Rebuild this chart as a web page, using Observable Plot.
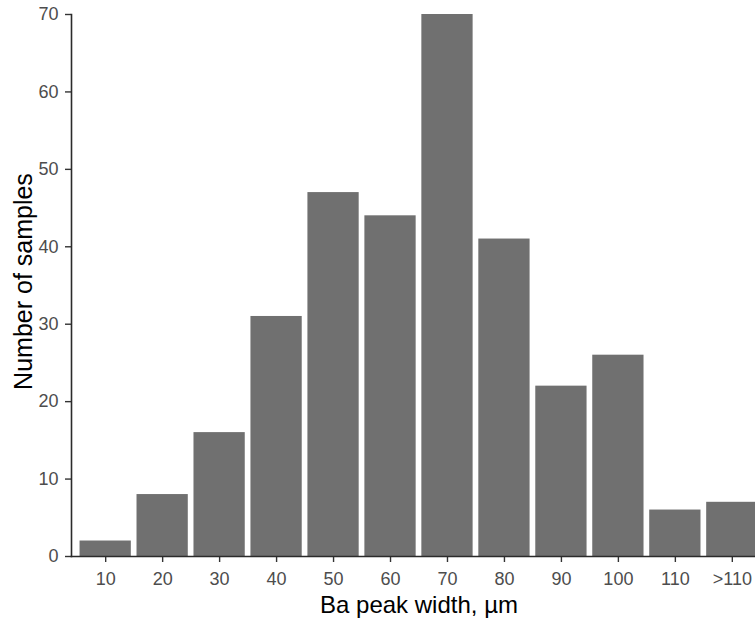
<!DOCTYPE html>
<html><head><meta charset="utf-8">
<script src="https://cdn.jsdelivr.net/npm/d3@7"></script>
<script src="https://cdn.jsdelivr.net/npm/@observablehq/plot@0.6"></script>
<style>
html,body{margin:0;padding:0;background:#fff;overflow:hidden;width:755px;height:620px}
#chart{width:755px;height:620px;overflow:hidden}
#chart svg{display:block;max-width:none !important;width:766px !important;height:620px !important}
</style>
</head><body><div id="chart"></div>
<script>
const categories = ["10","20","30","40","50","60","70","80","90","100","110",">110"];
const counts = [2, 8, 16, 31, 47, 44, 70, 41, 22, 26, 6, 7];
const yTicks = [0, 10, 20, 30, 40, 50, 60, 70];
const xTitle = ["Ba peak width, µm"];
const yTitle = ["Number of samples"];

const data = categories.map((c, i) => ({bin: c, count: counts[i]}));

const chart = Plot.plot({
  width: 766,
  height: 620,
  marginLeft: 71,
  marginRight: 0,
  marginTop: 14,
  marginBottom: 64,
  style: {fontFamily: "Liberation Sans, Arial, sans-serif", fontSize: "18px", background: "#fff", overflow: "hidden"},
  x: {domain: categories, paddingInner: 0.1, paddingOuter: 0.15, round: false, axis: null, label: null},
  y: {domain: [0, 70], axis: null, label: null},
  marks: [
    Plot.barY(data, {x: "bin", y: "count", fill: "#707070"}),
    Plot.axisX({tickSize: 6, tickPadding: 10, fontSize: 18, color: "#4d4d4d", stroke: "#333", strokeWidth: 1.4, label: null}),
    Plot.axisY({ticks: yTicks, tickSize: 6, tickPadding: 7, fontSize: 18, color: "#4d4d4d", stroke: "#333", strokeWidth: 1.4, label: null}),
    Plot.frame({anchor: "left", stroke: "#2b2b2b", strokeWidth: 1.6}),
    Plot.frame({anchor: "bottom", stroke: "#2b2b2b", strokeWidth: 1.6}),
    Plot.text(xTitle, {frameAnchor: "bottom", dy: 49, lineAnchor: "middle", textAnchor: "middle", fontSize: 24, fill: "#000"}),
    Plot.text(yTitle, {frameAnchor: "left", dx: -47.7, dy: -4, rotate: -90, lineAnchor: "middle", textAnchor: "middle", fontSize: 25, fill: "#000"})
  ]
});
document.getElementById("chart").appendChild(chart);
</script>
</body></html>
